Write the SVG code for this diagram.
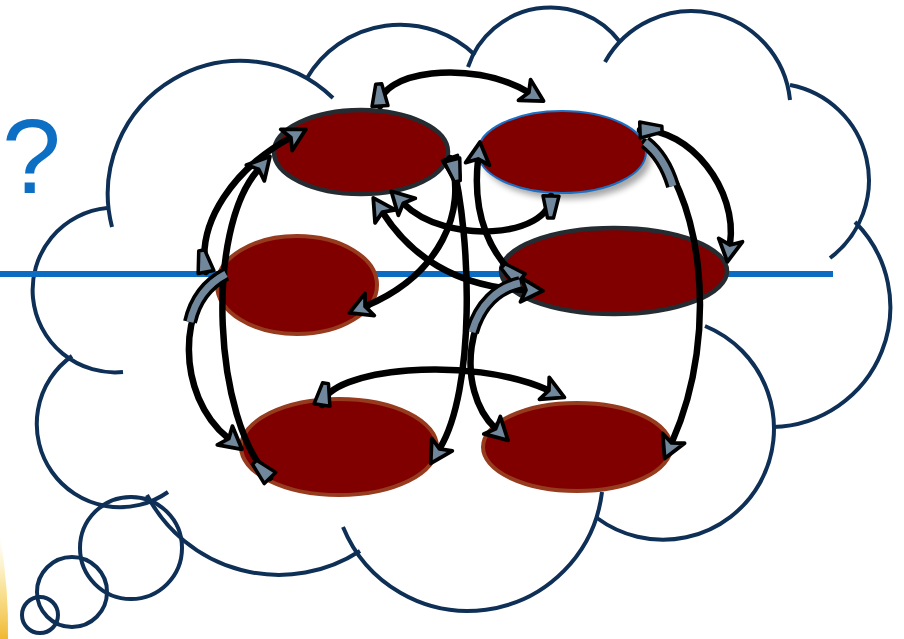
<svg xmlns="http://www.w3.org/2000/svg" width="904" height="639" viewBox="0 0 904 639">
<defs>
<style>
.cloud{fill:none;stroke:#0e2f56;stroke-width:4}
.node{fill:#800000}
.dk{stroke:#242c32;stroke-width:4.5}
.brn{stroke:#963b1d;stroke-width:4}
.blu{stroke:#1d6fc4;stroke-width:2}
.shaft{fill:none;stroke:#000;stroke-width:6.5;stroke-linecap:round;marker-end:url(#head)}
.t{marker-start:url(#tail)}
.h2{marker-start:url(#head2)}
.bandO{fill:none;stroke:#000;stroke-width:14}
.bandI{fill:none;stroke:#71879b;stroke-width:7}
.q{font-family:"Liberation Sans",Arial,sans-serif;font-size:106px;fill:#0d6fc4}
</style>
<linearGradient id="glow" x1="0" y1="0" x2="0" y2="1">
<stop offset="0" stop-color="#fbe9a0" stop-opacity="0"/>
<stop offset="0.5" stop-color="#f7d870" stop-opacity="0.7"/>
<stop offset="1" stop-color="#f0b830"/>
</linearGradient>
<filter id="shadow" x="-20%" y="-20%" width="140%" height="160%">
<feGaussianBlur stdDeviation="3"/>
</filter>
<marker id="head" markerUnits="userSpaceOnUse" orient="auto" refX="0" refY="0" markerWidth="30" markerHeight="30" overflow="visible">
<path d="M-4,-12 L18,0 L-4,12 L1,0 Z" fill="#71879b" stroke="#000" stroke-width="3.8" stroke-linejoin="round"/>
</marker>
<marker id="head2" markerUnits="userSpaceOnUse" orient="auto-start-reverse" refX="0" refY="0" markerWidth="30" markerHeight="30" overflow="visible">
<path d="M-4,-12 L18,0 L-4,12 L1,0 Z" fill="#71879b" stroke="#000" stroke-width="3.8" stroke-linejoin="round"/>
</marker>
<marker id="tail" markerUnits="userSpaceOnUse" orient="auto" refX="0" refY="0" markerWidth="30" markerHeight="30" overflow="visible">
<path d="M0,-8 L22,-3 L22,3 L0,8 Z" fill="#71879b" stroke="#000" stroke-width="3.5" stroke-linejoin="round"/>
</marker>
</defs>
<rect width="904" height="639" fill="#fff"/>
<path d="M0,535 Q9,590 8,639 L0,639 Z" fill="url(#glow)"/>
<text class="q" x="2" y="193">?</text>
<g id="cloud" class="cloud">
<path d="M123,372 A82,82 0 1 1 107,208"/>
<path d="M112,227 A133,133 0 0 1 333,98"/>
<path d="M307,78 A108,108 0 0 1 475,55"/>
<path d="M468,67 A87,87 0 0 1 620,42"/>
<path d="M605,62 A99,99 0 0 1 790,100"/>
<path d="M790,85 A97,97 0 0 1 830,258"/>
<path d="M855,222 A120,120 0 0 1 773,427"/>
<path d="M705,326 A111,111 0 1 1 597,518"/>
<path d="M602,492 A135,135 0 0 1 343,527"/>
<path d="M360,551 A149,149 0 0 1 147,495"/>
<path d="M168,492 A78,78 0 0 1 72,356"/>
<circle cx="131" cy="548" r="51"/>
<circle cx="72" cy="592" r="35"/>
<circle cx="40" cy="615" r="18"/>
</g>
<line id="axis" x1="0" y1="274" x2="833" y2="274" stroke="#0b6cc2" stroke-width="6"/>
<g id="n-tl"><ellipse class="node dk" cx="361" cy="152" rx="87" ry="42"/></g>
<g id="n-tr"><ellipse cx="567" cy="158" rx="84" ry="41" fill="#000" opacity="0.35" filter="url(#shadow)"/><ellipse class="node blu" cx="562" cy="152" rx="84" ry="41"/></g>
<g id="n-ml"><ellipse class="node brn" cx="297" cy="285" rx="80" ry="49"/></g>
<g id="n-mr"><ellipse class="node dk" cx="614" cy="271" rx="113" ry="43"/></g>
<g id="n-bl"><ellipse class="node brn" cx="339" cy="447" rx="98" ry="48"/></g>
<g id="n-br"><ellipse class="node brn" cx="577" cy="447" rx="94" ry="44"/></g>
<g id="connectors">
<path class="shaft t" d="M380,106 C378,72 470,58 528,92"/>
<path class="shaft t" d="M551,196 C550,238 445,245 404,204"/>
<path class="shaft h2" d="M383,213 C410,255 455,287 525,290"/>
<path class="shaft t" d="M450,158 C468,210 440,275 366,306"/>
<path class="shaft t" d="M520,280 C490,255 472,215 478,160"/>
<path class="shaft t" d="M452,160 C472,240 475,390 440,448"/>
<path class="shaft t" d="M640,130 C690,128 738,190 730,244"/>
<path class="shaft" d="M645,142 C700,185 722,330 672,442"/>
<path class="bandO" d="M645,142 C658,152 667,166 673,186"/>
<path class="bandI" d="M645,142 C658,152 667,166 673,186"/>
<path class="shaft" d="M518,283 C465,298 455,390 495,428"/>
<path class="bandO" d="M520,283 C498,288 480,304 472,332"/>
<path class="bandI" d="M520,283 C498,288 480,304 472,332"/>
<path class="shaft t" d="M206,272 C196,222 235,168 290,138"/>
<path class="shaft t" d="M270,478 C213,420 205,230 258,170"/>
<path class="shaft" d="M224,274 C178,300 175,395 228,438"/>
<path class="bandO" d="M226,274 C207,284 195,300 190,322"/>
<path class="bandI" d="M226,274 C207,284 195,300 190,322"/>
<path class="shaft t" d="M322,405 C328,368 470,355 548,390"/>
</g>
</svg>
